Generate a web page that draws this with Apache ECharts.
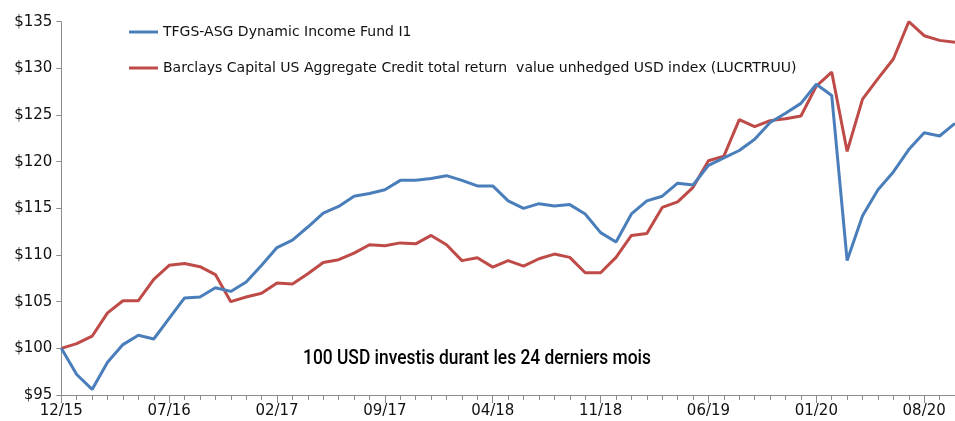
<!DOCTYPE html>
<html>
<head>
<meta charset="utf-8">
<script src="https://cdn.jsdelivr.net/npm/echarts@6/dist/echarts.min.js"></script>
<style>
    html, body { margin: 0; padding: 0; background: #fff; }
    #chart { width: 955px; height: 421px; }
</style>
</head>
<body>
<div id="chart"></div>
<script>
const months = [
    "12/15", "01/16", "02/16", "03/16", "04/16", "05/16", "06/16", "07/16", "08/16", "09/16", "10/16", "11/16",
    "12/16", "01/17", "02/17", "03/17", "04/17", "05/17", "06/17", "07/17", "08/17", "09/17", "10/17", "11/17",
    "12/17", "01/18", "02/18", "03/18", "04/18", "05/18", "06/18", "07/18", "08/18", "09/18", "10/18", "11/18",
    "12/18", "01/19", "02/19", "03/19", "04/19", "05/19", "06/19", "07/19", "08/19", "09/19", "10/19", "11/19",
    "12/19", "01/20", "02/20", "03/20", "04/20", "05/20", "06/20", "07/20", "08/20", "09/20", "10/20"
];

const fundName = "TFGS-ASG Dynamic Income Fund I1";
const fundValues = [
    100, 97.2, 95.6, 98.5, 100.4, 101.4, 101.0, 103.2, 105.4, 105.5, 106.5,
    106.1, 107.1, 108.9, 110.8, 111.6, 113.0, 114.5, 115.2, 116.3, 116.6,
    117.0, 118.0, 118.0, 118.2, 118.5, 118.0, 117.4, 117.4, 115.8, 115.0,
    115.5, 115.25, 115.4, 114.4, 112.4, 111.4, 114.4, 115.8, 116.3, 117.7,
    117.5, 119.6, 120.4, 121.2, 122.4, 124.2, 125.2, 126.25, 128.3, 127.1,
    109.4, 114.2, 117.0, 118.9, 121.3, 123.1, 122.75, 124.1
];

const indexName = "Barclays Capital US Aggregate Credit total return  value unhedged USD index (LUCRTRUU)";
const indexValues = [
    100, 100.5, 101.3, 103.8, 105.1, 105.1, 107.4, 108.9, 109.1, 108.75, 107.9,
    105.0, 105.5, 105.9, 107.0, 106.9, 108.0, 109.2, 109.5, 110.2, 111.1,
    111.0, 111.3, 111.2, 112.1, 111.1, 109.4, 109.7, 108.7, 109.4, 108.8,
    109.6, 110.1, 109.75, 108.1, 108.1, 109.75, 112.1, 112.3, 115.1, 115.7,
    117.25, 120.1, 120.6, 124.5, 123.75, 124.4, 124.6, 124.9, 128.1, 129.6,
    121.1, 126.7, 128.9, 131.0, 135.0, 133.5, 133.0, 132.8
];

const note = "100 USD investis durant les 24 derniers mois";

const chart = echarts.init(document.getElementById("chart"));

const axisGrey = "#8c8c8c";
const labelFont = "DejaVu Sans";

// the note is in a narrow font in the original: squeeze Roboto to its width
const noteFont = "500 20px Roboto";
const ctx = document.createElement("canvas").getContext("2d");
ctx.font = noteFont;
const noteScale = 348 / ctx.measureText(note).width;

const option = {
    animation: false,
    backgroundColor: "#fff",
    grid: {
        left: 61.3,
        top: 21.7,
        height: 373.3,
        width: 899.6
    },
    legend: {
        orient: "vertical",
        left: 124,
        top: 19,
        itemWidth: 29,
        itemHeight: 3,
        itemGap: 20,
        icon: "rect",
        textStyle: {
            fontFamily: labelFont,
            fontSize: 14,
            color: "#111",
            lineHeight: 16
        },
        data: [fundName, indexName]
    },
    xAxis: [
        {
            type: "category",
            data: months,
            boundaryGap: false,
            axisLine: { lineStyle: { color: axisGrey, width: 1 } },
            axisTick: { interval: 0, length: 5, lineStyle: { color: axisGrey } },
            axisLabel: {
                interval: 6,
                margin: 9,
                fontFamily: labelFont,
                fontSize: 15,
                color: "#111"
            },
            splitLine: { show: false }
        },
        {
            // longer ticks at the labelled months
            type: "category",
            data: months,
            boundaryGap: false,
            position: "bottom",
            axisLine: { show: false },
            axisTick: { interval: 6, length: 8, lineStyle: { color: axisGrey } },
            axisLabel: { show: false },
            splitLine: { show: false }
        }
    ],
    yAxis: {
        type: "value",
        min: 95,
        max: 135,
        interval: 5,
        axisLine: { show: true, lineStyle: { color: axisGrey, width: 1 } },
        axisTick: { show: true, length: 5, lineStyle: { color: axisGrey } },
        axisLabel: {
            margin: 9,
            fontFamily: labelFont,
            fontSize: 15,
            color: "#111",
            formatter: v => "$" + v
        },
        splitLine: { show: false }
    },
    series: [
        {
            name: fundName,
            type: "line",
            data: fundValues,
            symbol: "none",
            lineStyle: { color: "#4a7ebb", width: 3 },
            itemStyle: { color: "#4a7ebb" },
            z: 3
        },
        {
            name: indexName,
            type: "line",
            data: indexValues,
            symbol: "none",
            lineStyle: { color: "#be4b48", width: 3 },
            itemStyle: { color: "#be4b48" },
            z: 2
        }
    ],
    graphic: [
        {
            type: "text",
            x: 303,
            y: 359,
            scaleX: noteScale,
            style: {
                text: note,
                fontFamily: "Roboto",
                fontSize: 20,
                fontWeight: 500,
                fill: "#000",
                verticalAlign: "middle"
            }
        }
    ]
};

chart.setOption(option);
</script>
</body>
</html>
